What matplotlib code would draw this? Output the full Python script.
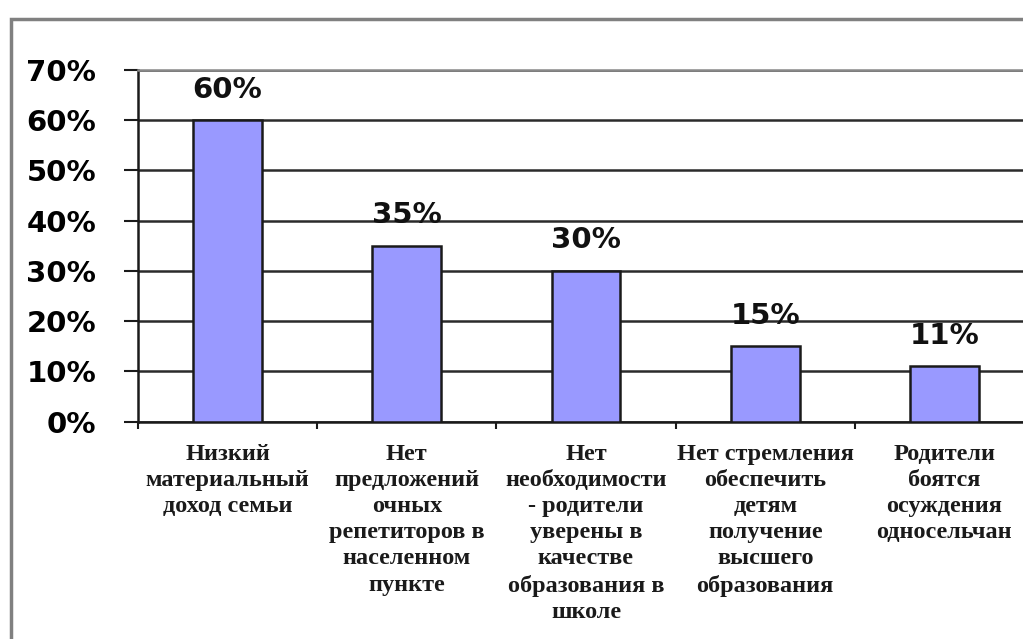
import matplotlib
matplotlib.use("Agg")
import matplotlib.pyplot as plt
from matplotlib.patches import Rectangle
from matplotlib.ticker import FixedLocator, PercentFormatter

categories = [
    "Низкий\nматериальный\nдоход семьи",
    "Нет\nпредложений\nочных\nрепетиторов в\nнаселенном\nпункте",
    "Нет\nнеобходимости\n- родители\nуверены в\nкачестве\nобразования в\nшколе",
    "Нет стремления\nобеспечить\nдетям\nполучение\nвысшего\nобразования",
    "Родители\nбоятся\nосуждения\nодносельчан",
]
values = [60, 35, 30, 15, 11]
yticks = [0, 10, 20, 30, 40, 50, 60, 70]

fig = plt.figure(figsize=(10.23, 6.39), dpi=100)
ax = fig.add_axes([138 / 1023, 1 - 421.7 / 639, 896 / 1023, (421.7 - 70) / 639])

x = list(range(len(categories)))
ax.bar(x, values, width=0.385, color="#9999FF", edgecolor="#1a1a1a", linewidth=1.8, zorder=3)

ax.set_xlim(-0.5, len(categories) - 0.5)
ax.set_ylim(0, 70)

ax.set_yticks(yticks)
ax.yaxis.set_major_formatter(PercentFormatter(decimals=0))
ax.tick_params(axis="y", direction="out", length=10, width=1.5, pad=20, color="#1a1a1a")
for lbl in ax.get_yticklabels():
    lbl.set_fontfamily("DejaVu Sans")
    lbl.set_fontweight("bold")
    lbl.set_fontsize(21)

ax.set_xticks(x)
ax.set_xticklabels(categories, fontfamily="Liberation Serif", fontweight="bold",
                   fontsize=17.5, linespacing=1.32, va="top", color="#1a1a1a")
ax.tick_params(axis="x", which="major", length=0, pad=16)
ax.xaxis.set_minor_locator(FixedLocator([i - 0.5 for i in range(len(categories) + 1)]))
ax.tick_params(axis="x", which="minor", direction="out", length=5, width=1.5, color="#1a1a1a")

ax.yaxis.grid(True, color="#2b2b2b", linewidth=1.8, zorder=0)
ax.spines["right"].set_visible(False)
ax.spines["top"].set_color("#888888")
ax.spines["top"].set_linewidth(1.8)
for s in ["left", "bottom"]:
    ax.spines[s].set_color("#1a1a1a")
    ax.spines[s].set_linewidth(1.8)

for xi, v in zip(x, values):
    ax.annotate(f"{v}%", (xi, v), xytext=(0, 22), textcoords="offset points",
                ha="center", va="center", fontsize=21, fontweight="bold",
                fontfamily="DejaVu Sans", color="#111111")

frame = Rectangle((11 / 1023, -0.2), 1.2, 0.2 + (1 - 19 / 639), transform=fig.transFigure,
                  fill=False, edgecolor="#808080", linewidth=2.5, clip_on=False)
fig.patches.append(frame)

fig.savefig("out.png", dpi=100)
